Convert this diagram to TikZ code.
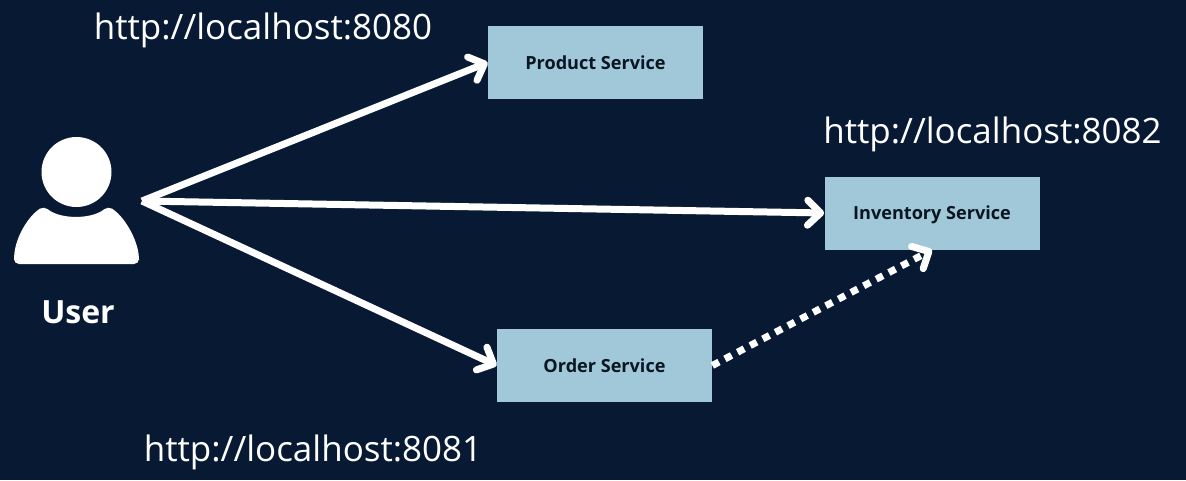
\documentclass[tikz,border=0pt]{standalone}
\usepackage{fontspec}
\setmainfont{Open Sans}
\usetikzlibrary{arrows.meta}

\definecolor{bgnavy}{HTML}{081A33}
\definecolor{boxblue}{HTML}{A0C8D8}
\definecolor{boxtext}{HTML}{0A1522}

\tikzset{
    servicebox/.style={fill=boxblue,minimum width=4.3cm,minimum height=1.46cm,inner sep=0pt,
        text depth=0pt,text=boxtext,font=\fontsize{10.3pt}{12pt}\selectfont\bfseries},
    urllabel/.style={text=white,inner sep=0pt,font=\fontsize{19.9pt}{24pt}\selectfont},
    callarrow/.style={white,line width=0.14cm,-{Straight Barb[round,length=0.26cm,width=0.5cm,line width=0.14cm]}},
    dotarrow/.style={callarrow,dash pattern=on 0.15cm off 0.135cm}
}

\begin{document}
\begin{tikzpicture}
    % Fondo
    \fill[bgnavy] (0,0) rectangle (23.72,9.6);
    \useasboundingbox (0,0) rectangle (23.72,9.6);

    % Usuario
    \fill[white] (1.53,6.16) circle (0.70);
    \fill[white,rounded corners=0.1cm] (0.28,4.32) -- (0.28,4.5) .. controls (0.36,4.95) and (0.6,5.3) .. (0.88,5.48)
        .. controls (1.2,5.21) and (1.84,5.21) .. (2.16,5.48)
        .. controls (2.44,5.3) and (2.68,4.95) .. (2.78,4.5) -- (2.78,4.32) -- cycle;
    \node[text=white,inner sep=0pt,font=\fontsize{18.2pt}{22pt}\selectfont\bfseries] (user) at (1.56,3.35) {User};
    \coordinate (hub) at (2.84,5.58);

    % Servicios
    \node[servicebox] (product) at (11.91,8.35) {Product Service};
    \node[servicebox] (inventory) at (18.64,5.34) {Inventory Service};
    \node[servicebox] (order) at (12.09,2.29) {Order Service};

    % Direcciones
    \node[urllabel] (url product) at (5.26,8.99) {http://localhost:8080};
    \node[urllabel] (url inventory) at (19.85,6.92) {http://localhost:8082};
    \node[urllabel] (url order) at (6.26,0.55) {http://localhost:8081};

    % Flechas
    \draw[callarrow] (hub) -- (product.west);
    \draw[callarrow] (hub) -- (inventory.west);
    \draw[callarrow] (hub) -- (order.west);
    \draw[dotarrow] (order.east) -- (inventory.south);
\end{tikzpicture}
\end{document}
